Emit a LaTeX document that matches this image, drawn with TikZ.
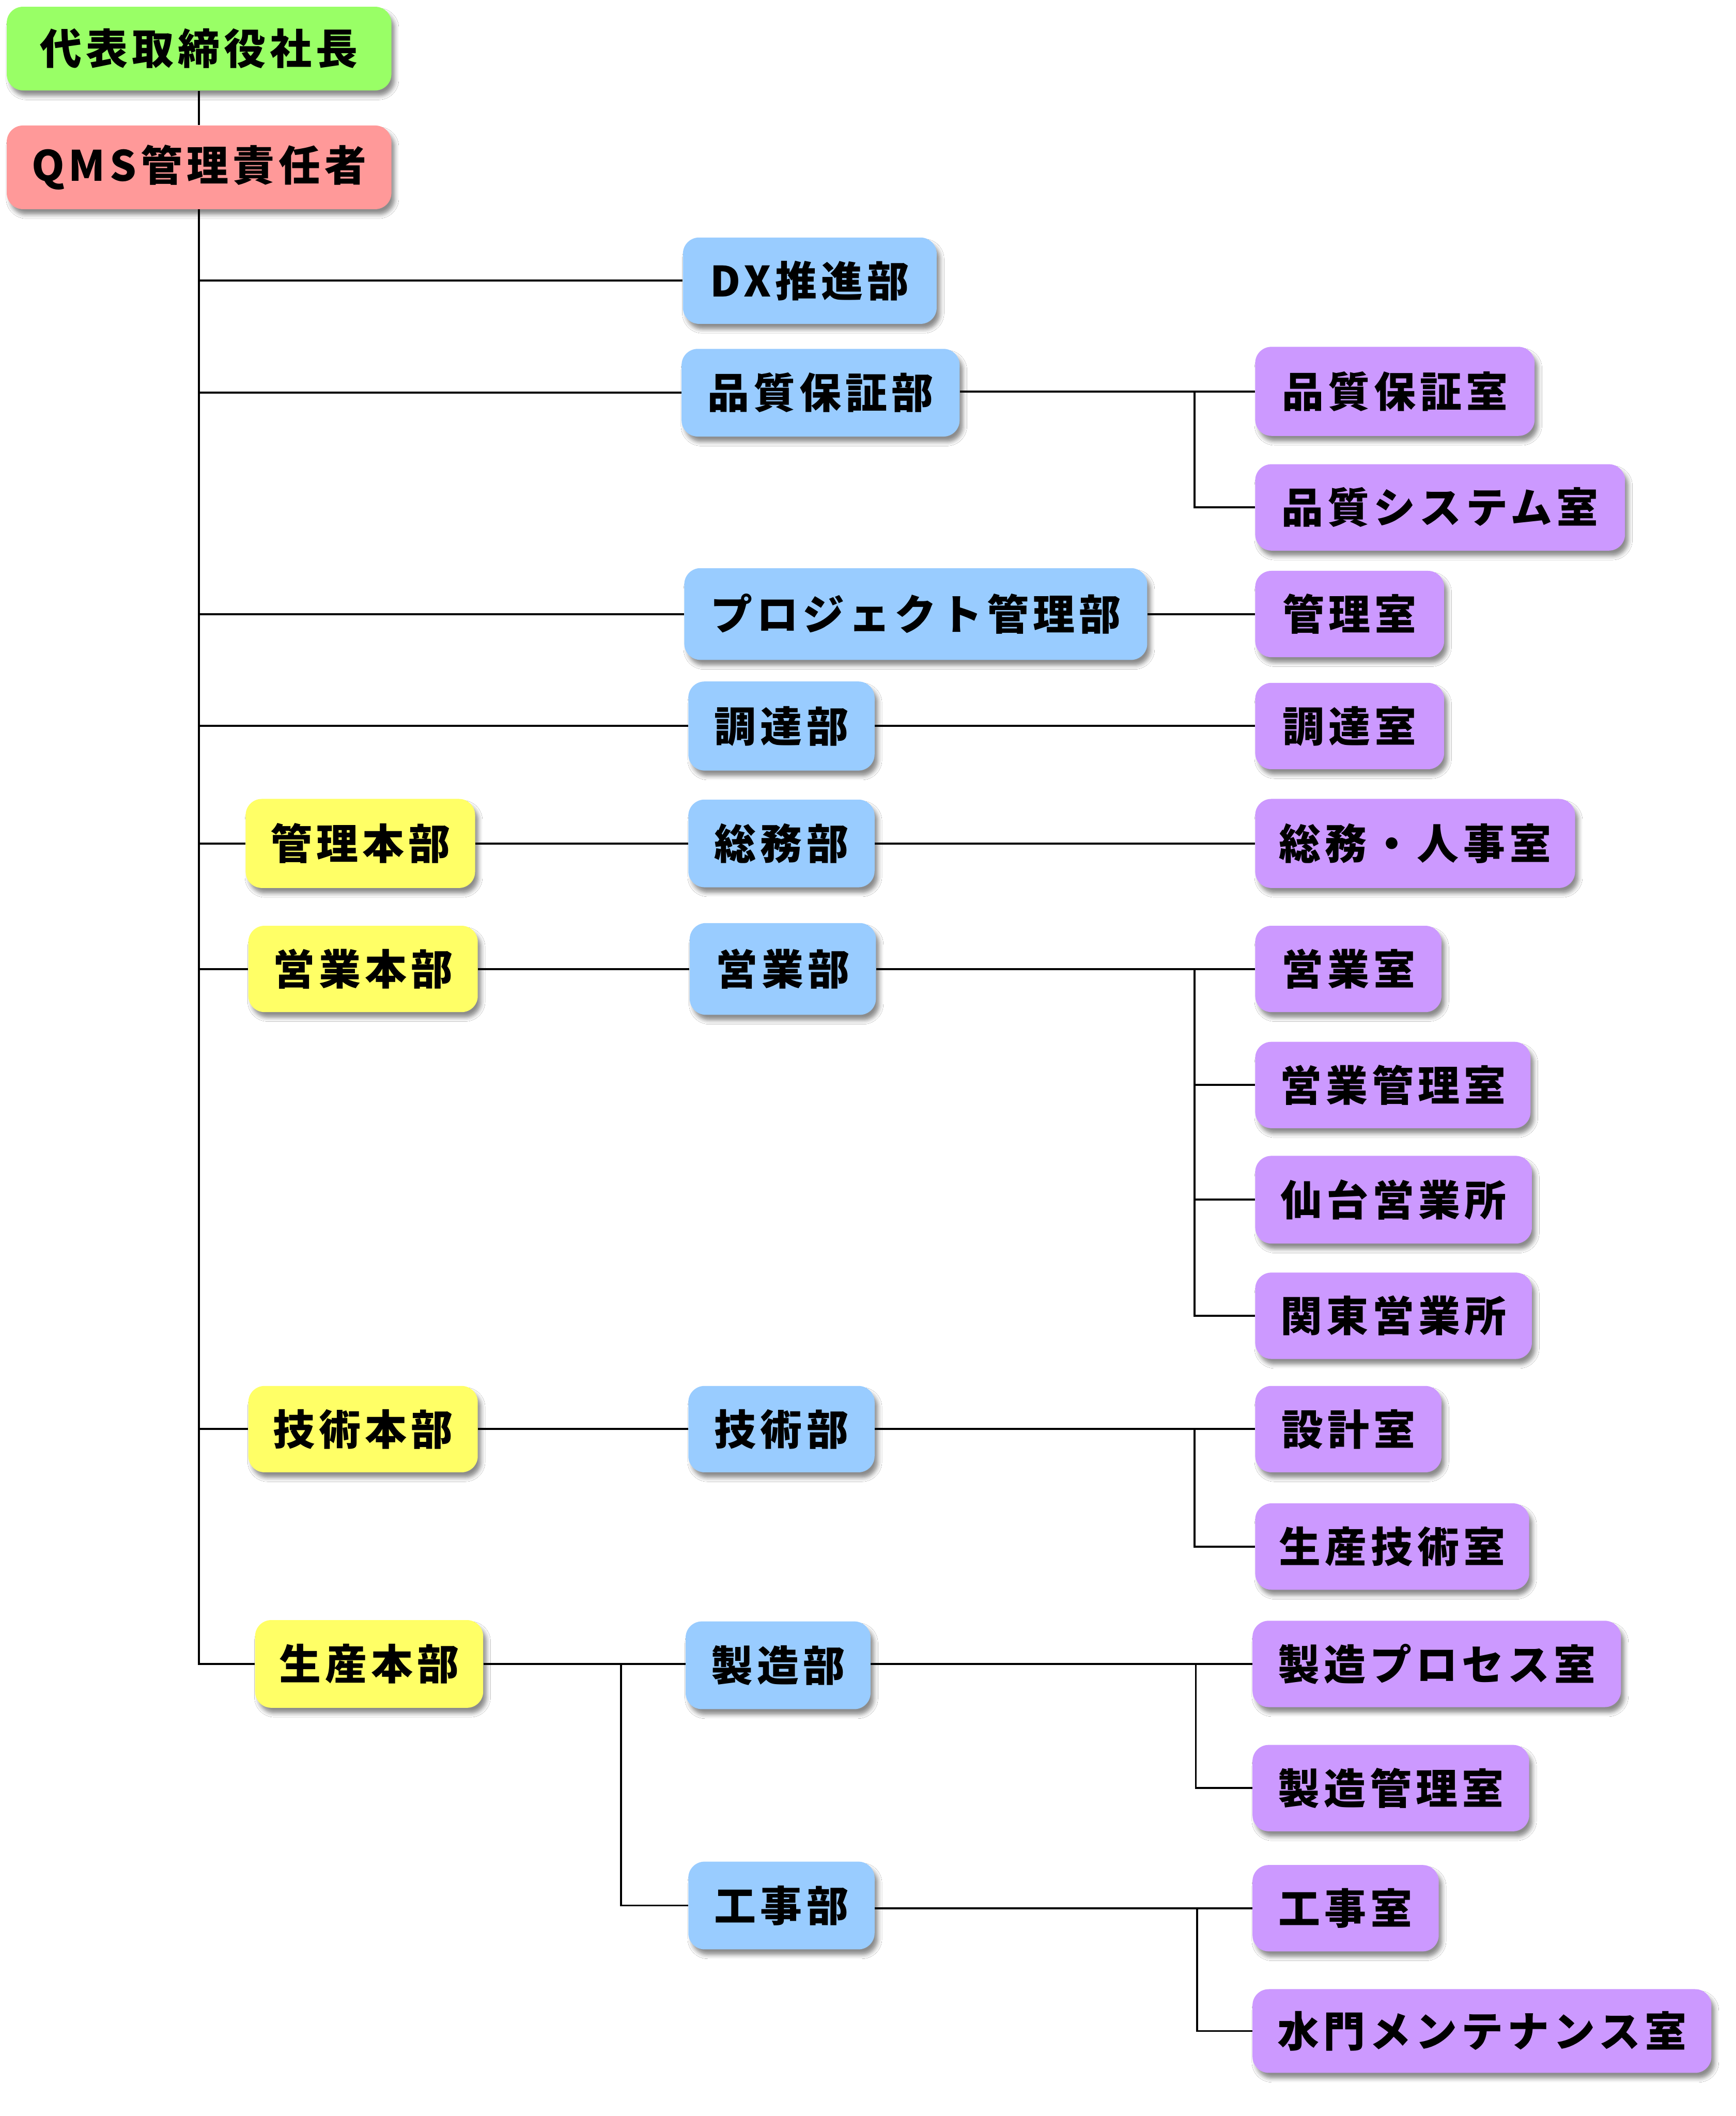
\documentclass[tikz,border=0pt]{standalone}
\usepackage{fontspec}
\newfontfamily\jp[LetterSpace=10]{Noto Sans CJK JP}
\usetikzlibrary{shadows.blur}
\definecolor{cgreen}{HTML}{99FF66}
\definecolor{cpink}{HTML}{FF9999}
\definecolor{cblue}{HTML}{99CCFF}
\definecolor{cyell}{HTML}{FFFF66}
\definecolor{cpurp}{HTML}{CC99FF}
\begin{document}
\begin{tikzpicture}[x=1pt,y=-1pt,
  box/.style={rounded corners=12pt, inner sep=0pt, minimum height=64, text=black,
    font=\jp\bfseries\fontsize{31}{31}\selectfont,
    blur shadow={shadow xshift=2.5pt, shadow yshift=-4pt, shadow blur radius=3pt, shadow opacity=45}},
  top/.style={box, fill=cgreen},
  qmsbox/.style={box, fill=cpink},
  hon/.style={box, fill=cyell},
  bu/.style={box, fill=cblue},
  shitsu/.style={box, fill=cpurp},
  conn/.style={line width=1.5pt, black}]
\useasboundingbox (0,0) rectangle (1286,1568);
\fill[white] (0,0) rectangle (1286,1568);

% top
\node[top, minimum width=285, minimum height=62] (ceo) at (147.5,36) {代表取締役社長};
\node[qmsbox, minimum width=285, minimum height=62] (qms) at (147.5,124) {QMS管理責任者};

% bu
\node[bu, minimum width=188] (dx) at (600,208) {DX推進部};
\node[bu, minimum width=206, minimum height=65] (hqbu) at (608,291) {品質保証部};
\node[bu, minimum width=343, minimum height=68] (pjbu) at (678.5,455) {プロジェクト管理部};
\node[bu, minimum width=138, minimum height=66] (chobu) at (579,538) {調達部};
\node[bu, minimum width=138, minimum height=65] (somubu) at (579,625) {総務部};
\node[bu, minimum width=138, minimum height=68] (eigyobu) at (580,718) {営業部};
\node[bu, minimum width=138] (gijutsubu) at (579,1059) {技術部};
\node[bu, minimum width=137, minimum height=65] (seizobu) at (576.5,1234) {製造部};
\node[bu, minimum width=138, minimum height=65] (kojibu) at (579,1412) {工事部};

% hon
\node[hon, minimum width=170, minimum height=66] (kanrihon) at (267,625) {管理本部};
\node[hon, minimum width=170] (eigyohon) at (269,718) {営業本部};
\node[hon, minimum width=170] (gijutsuhon) at (269,1059) {技術本部};
\node[hon, minimum width=169, minimum height=65] (seisanhon) at (273.5,1233) {生産本部};

% shitsu
\node[shitsu, minimum width=207, minimum height=66] (hqroom) at (1033.5,290) {品質保証室};
\node[shitsu, minimum width=274] (hqsys) at (1067,376) {品質システム室};
\node[shitsu, minimum width=140] (kanriroom) at (1000,455) {管理室};
\node[shitsu, minimum width=140] (choroom) at (1000,538) {調達室};
\node[shitsu, minimum width=237, minimum height=66] (somuroom) at (1048.5,625) {総務・人事室};
\node[shitsu, minimum width=138] (eigyoroom) at (999,718) {営業室};
\node[shitsu, minimum width=204] (eigyokanri) at (1032,804) {営業管理室};
\node[shitsu, minimum width=205, minimum height=65] (sendai) at (1032.5,889) {仙台営業所};
\node[shitsu, minimum width=205] (kanto) at (1032.5,975) {関東営業所};
\node[shitsu, minimum width=138] (sekkei) at (999,1059) {設計室};
\node[shitsu, minimum width=203] (seigi) at (1031.5,1146) {生産技術室};
\node[shitsu, minimum width=273] (seizoproc) at (1064.5,1233) {製造プロセス室};
\node[shitsu, minimum width=205] (seizokanri) at (1030.5,1325) {製造管理室};
\node[shitsu, minimum width=138] (kojiroom) at (997,1414) {工事室};
\node[shitsu, minimum width=340, minimum height=62] (suimon) at (1098,1505) {水門メンテナンス室};

% branch points
\coordinate (bq) at (885,290);
\coordinate (be) at (885,718);
\coordinate (bg) at (885,1059);
\coordinate (bs) at (460,1233);
\coordinate (bz) at (886,1233);
\coordinate (bk) at (887,1414);

% trunk
\draw[conn] (ceo) -- (qms);
\draw[conn] (qms.south) |- (seisanhon.west);
\foreach \n in {dx,hqbu,pjbu,chobu,kanrihon,eigyohon,gijutsuhon}
  \draw[conn] (qms.south |- \n.west) -- (\n.west);

% honbu to bu
\draw[conn] (kanrihon) -- (somubu);
\draw[conn] (eigyohon) -- (eigyobu);
\draw[conn] (gijutsuhon) -- (gijutsubu);
\draw[conn] (seisanhon.east) -- (seisanhon.east -| seizobu.west);
\draw[conn] (bs) |- (kojibu.west);

% bu to shitsu
\draw[conn] (hqbu.east |- hqroom.west) -- (hqroom.west);
\draw[conn] (bq) |- (hqsys.west);
\draw[conn] (pjbu) -- (kanriroom);
\draw[conn] (chobu) -- (choroom);
\draw[conn] (somubu) -- (somuroom);
\draw[conn] (eigyobu) -- (eigyoroom);
\draw[conn] (be) |- (eigyokanri.west);
\draw[conn] (be) |- (sendai.west);
\draw[conn] (be) |- (kanto.west);
\draw[conn] (gijutsubu) -- (sekkei);
\draw[conn] (bg) |- (seigi.west);
\draw[conn] (seizobu.east |- seizoproc.west) -- (seizoproc.west);
\draw[conn] (bz) |- (seizokanri.west);
\draw[conn] (kojibu.east |- kojiroom.west) -- (kojiroom.west);
\draw[conn] (bk) |- (suimon.west);
\end{tikzpicture}
\end{document}
